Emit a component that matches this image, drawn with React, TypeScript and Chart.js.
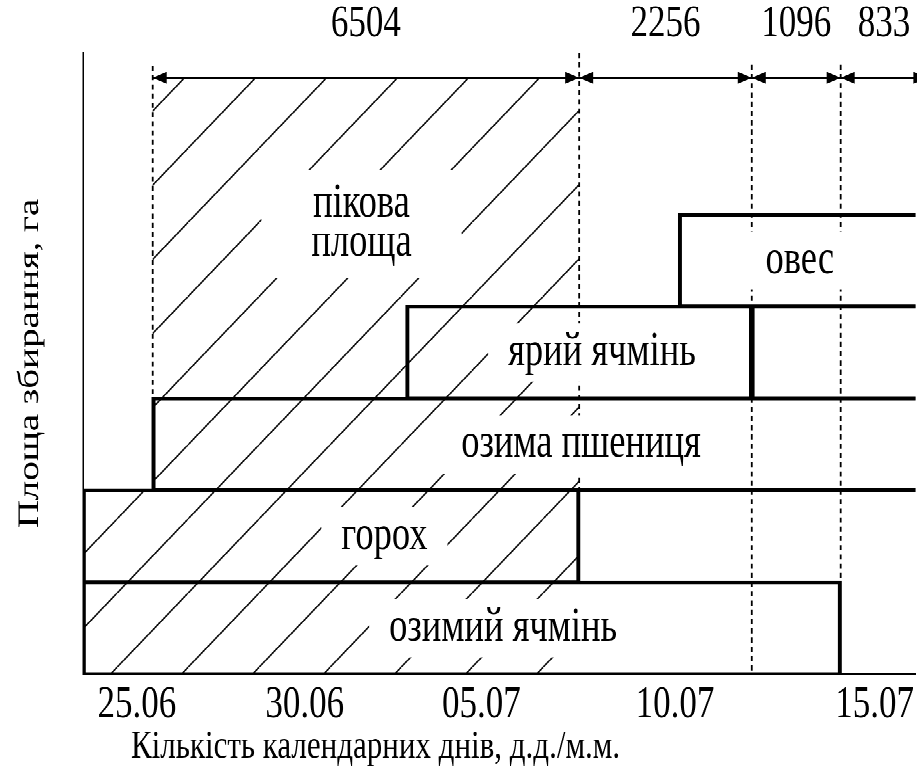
import React, { useEffect, useRef } from "react";
import { Chart, registerables } from "chart.js";

Chart.register(...registerables);

// ---------------- data ----------------
// x: position on the time axis in days (the "25.06" tick = 0); y: row index counted from the bottom
const CROPS = ["озимий ячмінь", "горох", "озима пшениця", "ярий ячмінь", "овес"];
const CROP_ROW = [0.5, 1.5, 2.5, 3.5, 4.5];
const CROP_START = [-1.46, -1.46, 0.43, 7.31, 14.7];
const CROP_END = [19.08, 11.99, 23.5, 16.67, 23.5];
const CROP_LABEL_X = [9.93, 6.71, 12.04, 12.61, 17.97];

// segment that follows "ярий ячмінь" in its row
const TAIL_ROW = [3.5];
const TAIL_START = [16.67];
const TAIL_END = [23.5];

// hatched peak area outline (filled down to y = 0)
const PEAK_X = [-1.46, 0.43, 0.43, 11.99];
const PEAK_Y = [2, 2, 6.49, 6.49];
const PEAK_LABEL = ["пікова", "площа"];
const PEAK_LABEL_X = 6.09;
const PEAK_LABEL_Y = 4.9;

// dimension arrows with harvested areas
const INTERVAL_BOUNDS = [0.43, 11.99, 16.67, 19.08, 21.43];
const INTERVAL_AREAS = ["6504", "2256", "1096", "833"];
const ARROW_Y = 6.49;

// dashed guide lines
const DASH_X = [0.43, 11.99, 16.67, 19.08];
const DASH_TOP = [6.62, 6.76, 6.63, 6.63];
const DASH_BOTTOM = [3, 2, 0, 1];

const TICK_VALUES = [0, 4.55, 9.34, 14.59, 20];
const TICK_LABELS = ["25.06", "30.06", "05.07", "10.07", "15.07"];
const ROW_LINES = [0, 1, 2, 3, 4, 5, 6];

const X_MIN = -1.46;
const X_MAX = 21.11;
const Y_MIN = 0;
const Y_MAX = 6.76;

const X_TITLE = "Кількість календарних днів, д.д./м.м.";
const Y_TITLE = "Площа збирання, га";

// ---------------- styles ----------------
const W = 917;
const H_VIEW = 774;
const H = 595;
const STRETCH = H_VIEW / H;
const FONT = '"Liberation Serif", "Times New Roman", serif';
const INK = "#000";
const LABEL_SIZE = 36.5;
const NUM_SIZE = 35;
const TICK_SIZE = 35;
const XTITLE_SIZE = 31;
const YTITLE_SIZE = 30;
const ARROW_L = 14;
const ARROW_H = 9.2;
const HATCH_W = 71;
const HATCH_H = 57;
const HATCH_SHIFT = 46;

function makeHatch(ctx: CanvasRenderingContext2D): CanvasPattern | string {
  const s = 2;
  const c = document.createElement("canvas");
  c.width = HATCH_W * s;
  c.height = HATCH_H * s;
  const g = c.getContext("2d");
  if (!g) return "rgba(0,0,0,0)";
  g.scale(s, s);
  g.strokeStyle = "#111";
  g.lineWidth = 1.3;
  g.beginPath();
  for (const dx of [-HATCH_W, 0, HATCH_W]) {
    g.moveTo(dx, HATCH_H);
    g.lineTo(dx + HATCH_W, 0);
  }
  g.stroke();
  const p = ctx.createPattern(c, "repeat");
  if (!p) return "rgba(0,0,0,0)";
  try {
    p.setTransform(new DOMMatrix([1 / s, 0, 0, 1 / s, HATCH_SHIFT, 0]));
  } catch (e) {
    /* ignore */
  }
  return p;
}

function drawLabel(
  ctx: CanvasRenderingContext2D,
  lines: string[],
  cx: number,
  cy: number,
  padX: number,
  padY: number,
  lineGap: number
) {
  ctx.font = `${LABEL_SIZE}px ${FONT}`;
  const w = Math.max(...lines.map((l) => ctx.measureText(l).width));
  const n = lines.length;
  const y0 = cy - ((n - 1) * lineGap) / 2;
  const top = y0 - 0.34 * LABEL_SIZE - padY;
  const bottom = y0 + (n - 1) * lineGap + 0.34 * LABEL_SIZE + padY;
  ctx.fillStyle = "#fff";
  ctx.fillRect(cx - w / 2 - padX, top, w + 2 * padX, bottom - top);
  ctx.fillStyle = INK;
  ctx.textAlign = "center";
  ctx.textBaseline = "middle";
  lines.forEach((l, i) => ctx.fillText(l, cx, y0 + i * lineGap));
}

function arrowHead(ctx: CanvasRenderingContext2D, tipX: number, y: number, dir: number) {
  ctx.beginPath();
  ctx.moveTo(tipX, y);
  ctx.lineTo(tipX + dir * ARROW_L, y - ARROW_H / 2);
  ctx.lineTo(tipX + dir * ARROW_L, y + ARROW_H / 2);
  ctx.closePath();
  ctx.fill();
}

const schemePlugin = {
  id: "scheme",
  afterDatasetsDraw(chart: any) {
    const ctx: CanvasRenderingContext2D = chart.ctx;
    const xs = chart.scales.x;
    const ys = chart.scales.y;
    const area = chart.chartArea;
    const ay = ys.getPixelForValue(ARROW_Y);
    ctx.save();
    ctx.fillStyle = INK;
    for (let i = 0; i < INTERVAL_BOUNDS.length - 1; i++) {
      const a = xs.getPixelForValue(INTERVAL_BOUNDS[i]);
      const b = xs.getPixelForValue(INTERVAL_BOUNDS[i + 1]);
      arrowHead(ctx, a, ay, 1);
      arrowHead(ctx, b, ay, -1);
      ctx.font = `${NUM_SIZE}px ${FONT}`;
      ctx.textAlign = "center";
      ctx.textBaseline = "alphabetic";
      ctx.fillText(INTERVAL_AREAS[i], (a + b) / 2, ay - 32);
    }
    drawLabel(
      ctx,
      PEAK_LABEL,
      xs.getPixelForValue(PEAK_LABEL_X),
      ys.getPixelForValue(PEAK_LABEL_Y),
      50,
      14,
      30
    );
    CROPS.forEach((name, i) => {
      drawLabel(
        ctx,
        [name],
        xs.getPixelForValue(CROP_LABEL_X[i]),
        ys.getPixelForValue(CROP_ROW[i]),
        20,
        10,
        0
      );
    });
    ctx.fillStyle = INK;
    ctx.font = `${XTITLE_SIZE}px ${FONT}`;
    ctx.textAlign = "left";
    ctx.textBaseline = "alphabetic";
    ctx.fillText(X_TITLE, area.left + 48, area.bottom + 64.3);
    ctx.restore();
  },
};

export default function App() {
  const ref = useRef<HTMLCanvasElement | null>(null);

  useEffect(() => {
    const canvas = ref.current;
    if (!canvas) return;
    const ctx0 = canvas.getContext("2d");
    if (!ctx0) return;
    const hatch = makeHatch(ctx0);

    const barData = [
      ...CROP_ROW.map((y, i) => ({ y, x: [CROP_START[i], CROP_END[i]] })),
      ...TAIL_ROW.map((y, i) => ({ y, x: [TAIL_START[i], TAIL_END[i]] })),
    ];

    const datasets: any[] = [
      {
        type: "bar",
        label: "crops",
        indexAxis: "y",
        data: barData,
        backgroundColor: "rgba(0,0,0,0)",
        borderColor: INK,
        borderWidth: { top: 0.3, bottom: 0.3, left: 1.6, right: 1.6 },
        inflateAmount: 1.2,
        borderSkipped: false,
        barPercentage: 1,
        categoryPercentage: 1,
        grouped: false,
        order: 1,
      },
      {
        type: "line",
        label: "arrow",
        data: [
          { x: INTERVAL_BOUNDS[0], y: ARROW_Y },
          { x: INTERVAL_BOUNDS[INTERVAL_BOUNDS.length - 1], y: ARROW_Y },
        ],
        borderColor: INK,
        borderWidth: 1.6,
        pointRadius: 0,
        fill: false,
        order: 2,
      },
      ...DASH_X.map((x, i) => ({
        type: "line",
        label: "dash" + i,
        data: [
          { x, y: DASH_TOP[i] },
          { x, y: DASH_BOTTOM[i] },
        ],
        borderColor: INK,
        borderWidth: 1.8,
        borderDash: [3.9, 3.2],
        pointRadius: 0,
        fill: false,
        order: 3,
      })),
      {
        type: "line",
        label: "peak",
        data: PEAK_X.map((x, i) => ({ x, y: PEAK_Y[i] })),
        borderWidth: 0,
        borderColor: "rgba(0,0,0,0)",
        backgroundColor: hatch,
        fill: "origin",
        pointRadius: 0,
        tension: 0,
        order: 4,
      },
    ];

    const chart = new Chart(canvas, {
      type: "line",
      data: { datasets },
      options: {
        animation: false,
        responsive: false,
        devicePixelRatio: 2,
        events: [],
        layout: {
          autoPadding: false,
          padding: { left: 12, top: 53 / STRETCH, right: 0, bottom: 28.8 },
        },
        plugins: {
          legend: { display: false },
          tooltip: { enabled: false },
          title: { display: false },
        },
        scales: {
          x: {
            type: "linear",
            min: X_MIN,
            max: X_MAX,
            offset: false,
            beginAtZero: false,
            grid: { display: false, drawTicks: false, offset: false },
            border: { display: true, color: INK, width: 1.5 },
            ticks: {
              font: { family: FONT, size: TICK_SIZE },
              color: INK,
              padding: 3,
              autoSkip: false,
              maxRotation: 0,
              minRotation: 0,
              callback: (_v: any, i: number) => TICK_LABELS[i],
            },
            afterBuildTicks: (s: any) => {
              s.ticks = TICK_VALUES.map((v) => ({ value: v }));
            },
          },
          y: {
            type: "linear",
            min: Y_MIN,
            max: Y_MAX,
            offset: false,
            grid: { display: false, drawTicks: false, offset: false },
            border: { display: true, color: INK, width: 1.5 },
            ticks: { display: false },
            afterBuildTicks: (s: any) => {
              s.ticks = ROW_LINES.map((v) => ({ value: v }));
            },
            title: {
              display: true,
              text: Y_TITLE,
              color: INK,
              font: { family: FONT, size: YTITLE_SIZE },
              padding: { top: 0, bottom: 35 },
            },
          },
        },
      } as any,
      plugins: [schemePlugin],
    });

    return () => chart.destroy();
  }, []);

  return (
    <div
      style={{
        position: "fixed",
        left: 0,
        top: 0,
        width: W,
        height: H,
        background: "#fff",
        transform: `scaleY(${STRETCH})`,
        transformOrigin: "0 0",
      }}
    >
      <canvas ref={ref} width={W} height={H} style={{ display: "block", width: W, height: H }} />
    </div>
  );
}
